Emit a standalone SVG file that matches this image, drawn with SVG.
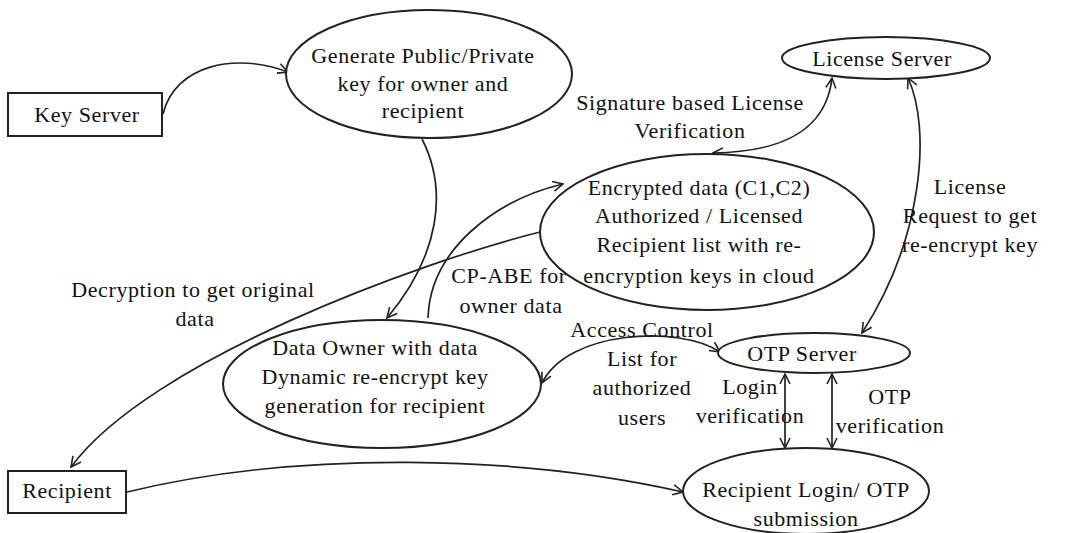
<svg xmlns="http://www.w3.org/2000/svg" width="1074" height="533" viewBox="0 0 1074 533">
<defs>
<marker id="arr" viewBox="0 0 12 12" refX="11" refY="6" markerWidth="12" markerHeight="12" markerUnits="userSpaceOnUse" orient="auto-start-reverse">
<path d="M1,1 L11,6 L1,11" fill="none" stroke="#222" stroke-width="1.6"/>
</marker>
</defs>
<style>
.shape{fill:#fff;stroke:#222;stroke-width:2}
.ln{fill:none;stroke:#222;stroke-width:1.7}
text{font-family:"Liberation Serif","Times New Roman",serif;font-size:22px;letter-spacing:0.6px;fill:#111;text-anchor:middle}
</style>
<rect width="1074" height="533" fill="#fff"/>
<g id="connectors">
<path class="ln" d="M163,114 C 175,65 235,52 288,72" marker-end="url(#arr)"/>
<path class="ln" d="M422,139 C 448,190 440,255 387,318" marker-end="url(#arr)"/>
<path class="ln" d="M428,318 C 430,250 495,200 563,184" marker-end="url(#arr)"/>
<path class="ln" d="M540,232 C 420,262 150,360 71,467" marker-end="url(#arr)"/>
<path class="ln" d="M832,78 C 826,132 780,152 713,153" marker-start="url(#arr)" marker-end="url(#arr)"/>
<path class="ln" d="M908,78 C 932,130 922,240 862,333" marker-start="url(#arr)" marker-end="url(#arr)"/>
<path class="ln" d="M542,383 C 568,330 680,325 720,352" marker-start="url(#arr)" marker-end="url(#arr)"/>
<path class="ln" d="M785,374 L785,448" marker-start="url(#arr)" marker-end="url(#arr)"/>
<path class="ln" d="M832,374 L832,448" marker-start="url(#arr)" marker-end="url(#arr)"/>
<path class="ln" d="M127,492 C 300,450 520,455 683,492" marker-end="url(#arr)"/>
</g>
<g id="key-server">
<rect class="shape" x="8" y="93" width="154" height="43"/>
<text x="87" y="122">Key Server</text>
</g>
<g id="generate-keys">
<ellipse class="shape" cx="429" cy="74" rx="143" ry="64"/>
<text x="423" y="63">Generate Public/Private</text>
<text x="423" y="91">key for owner and</text>
<text x="423" y="118">recipient</text>
</g>
<g id="license-server">
<ellipse class="shape" cx="886" cy="58" rx="104" ry="21"/>
<text x="882" y="66">License Server</text>
</g>
<g id="encrypted-data">
<ellipse class="shape" cx="707" cy="232" rx="167" ry="78"/>
<text x="699" y="195">Encrypted data (C1,C2)</text>
<text x="699" y="223">Authorized / Licensed</text>
<text x="699" y="252">Recipient list with re-</text>
<text x="699" y="283">encryption keys in cloud</text>
</g>
<g id="data-owner">
<ellipse class="shape" cx="382" cy="384" rx="159" ry="64"/>
<text x="375" y="355">Data Owner with data</text>
<text x="375" y="384">Dynamic re-encrypt key</text>
<text x="375" y="413">generation for recipient</text>
</g>
<g id="otp-server">
<ellipse class="shape" cx="814" cy="353" rx="96" ry="20"/>
<text x="802" y="361">OTP Server</text>
</g>
<g id="recipient">
<rect class="shape" x="8" y="471" width="118" height="42"/>
<text x="67" y="498">Recipient</text>
</g>
<g id="recipient-login">
<ellipse class="shape" cx="806" cy="491" rx="123" ry="43"/>
<text x="806" y="497">Recipient Login/ OTP</text>
<text x="806" y="526">submission</text>
</g>
<g id="labels">
<text x="690" y="110">Signature based License</text>
<text x="690" y="138">Verification</text>
<text x="970" y="194">License</text>
<text x="970" y="223">Request to get</text>
<text x="970" y="252">re-encrypt key</text>
<text x="193" y="297">Decryption to get original</text>
<text x="195" y="326">data</text>
<text x="509" y="283">CP-ABE for</text>
<text x="511" y="313">owner data</text>
<text x="642" y="337">Access Control</text>
<text x="642" y="366">List for</text>
<text x="642" y="395">authorized</text>
<text x="642" y="425">users</text>
<text x="750" y="394">Login</text>
<text x="750" y="423">verification</text>
<text x="890" y="404">OTP</text>
<text x="890" y="433">verification</text>
</g>
</svg>
